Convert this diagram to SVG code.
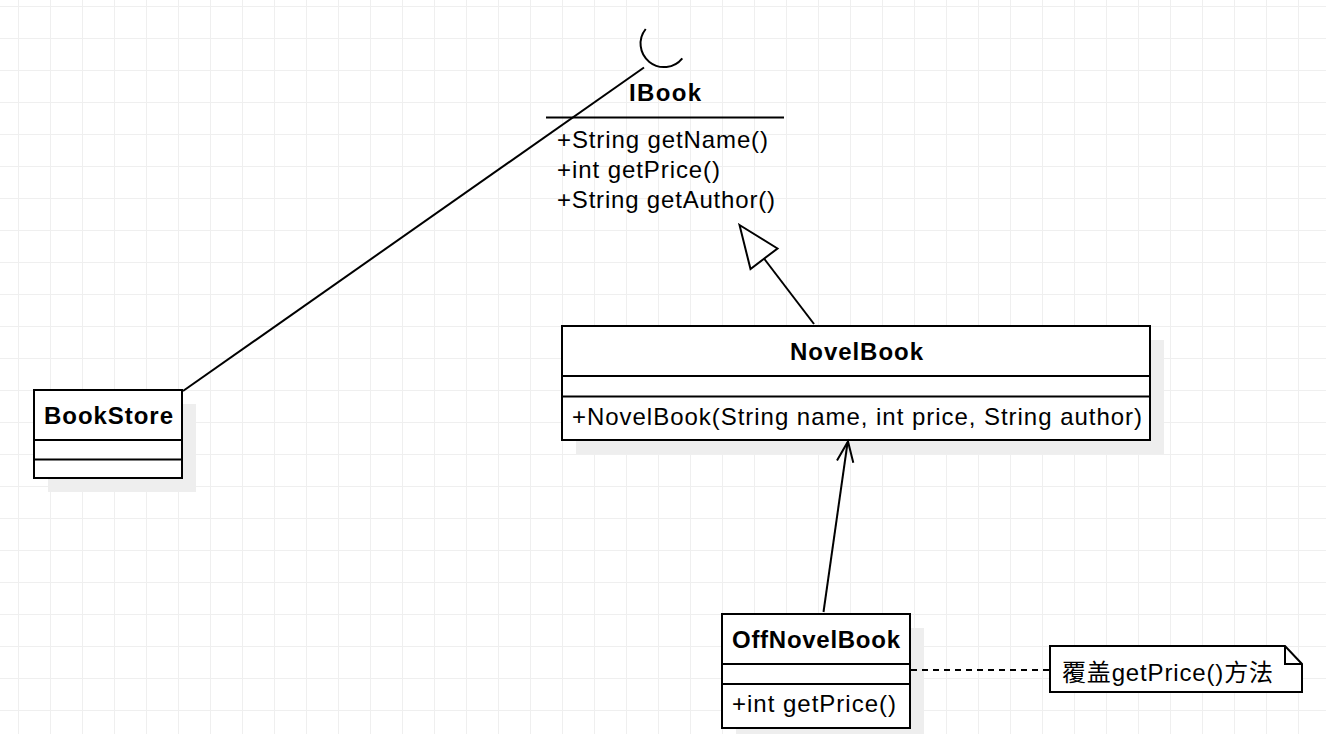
<svg xmlns="http://www.w3.org/2000/svg" width="1326" height="734" viewBox="0 0 1326 734">
  <defs>
    <pattern id="grid" x="18" y="6" width="32" height="32" patternUnits="userSpaceOnUse">
      <path d="M0.5 0 V32 M0 0.5 H32" fill="none" stroke="#efefef" stroke-width="1"/>
    </pattern>
    <style>
      .box { fill: #ffffff; stroke: #000000; stroke-width: 2; }
      .shadow { fill: #eeeeee; stroke: none; }
      .sep { stroke: #000000; stroke-width: 2; fill: none; }
      .edge { stroke: #000000; stroke-width: 2; fill: none; }
      .title { font-family: "Liberation Sans", Arial, sans-serif; font-size: 24px; font-weight: bold; fill: #000000; }
      .member { font-family: "Liberation Sans", Arial, sans-serif; font-size: 24px; fill: #000000; }
      .note { font-family: "Liberation Sans", "Noto Sans CJK SC", sans-serif; font-size: 24px; fill: #000000; }
    </style>
  </defs>

  <rect x="0" y="0" width="1326" height="734" fill="#ffffff"/>
  <rect x="0" y="0" width="1326" height="734" fill="url(#grid)"/>

  <g id="IBook">
    <path class="edge" d="M645.7 29 A23 23 0 1 0 682.3 58.3"/>
    <text class="title" x="629" y="101" textLength="72" lengthAdjust="spacing">IBook</text>
    <line class="sep" x1="546" y1="117.5" x2="784" y2="117.5"/>
    <text class="member" x="557" y="148" textLength="211" lengthAdjust="spacing">+String getName()</text>
    <text class="member" x="557" y="178" textLength="163" lengthAdjust="spacing">+int getPrice()</text>
    <text class="member" x="557" y="208" textLength="218" lengthAdjust="spacing">+String getAuthor()</text>
  </g>

  <g id="BookStore">
    <rect class="shadow" x="48" y="404" width="148" height="88"/>
    <rect class="box" x="34" y="390" width="148" height="88"/>
    <line class="sep" x1="34" y1="440" x2="182" y2="440"/>
    <line class="sep" x1="34" y1="459.5" x2="182" y2="459.5"/>
    <text class="title" x="44" y="424" textLength="129" lengthAdjust="spacing">BookStore</text>
  </g>

  <g id="NovelBook">
    <rect class="shadow" x="576" y="340" width="588" height="114"/>
    <rect class="box" x="562" y="326" width="588" height="114"/>
    <line class="sep" x1="562" y1="376" x2="1150" y2="376"/>
    <line class="sep" x1="562" y1="396.5" x2="1150" y2="396.5"/>
    <text class="title" x="790" y="360" textLength="133" lengthAdjust="spacing">NovelBook</text>
    <text class="member" x="572" y="425" textLength="570" lengthAdjust="spacing">+NovelBook(String name, int price, String author)</text>
  </g>

  <g id="OffNovelBook">
    <rect class="shadow" x="736" y="628" width="188" height="114"/>
    <rect class="box" x="722" y="614" width="188" height="114"/>
    <line class="sep" x1="722" y1="664" x2="910" y2="664"/>
    <line class="sep" x1="722" y1="684" x2="910" y2="684"/>
    <text class="title" x="732" y="648" textLength="168" lengthAdjust="spacing">OffNovelBook</text>
    <text class="member" x="732" y="712" textLength="164" lengthAdjust="spacing">+int getPrice()</text>
  </g>

  <g id="note">
    <path class="box" d="M1050 646 H1285 L1302 664 V692 H1050 Z"/>
    <path class="sep" d="M1285 646 V664 H1302"/>
    <text class="note" x="1062" y="681" textLength="211" lengthAdjust="spacing">覆盖getPrice()方法</text>
  </g>

  <g id="connectors">
    <line class="edge" x1="183" y1="391" x2="644" y2="67.5"/>
    <line class="edge" x1="814" y1="324" x2="764" y2="258.5"/>
    <polygon class="edge" fill="#ffffff" points="739.5,225 777.5,248.5 750.5,269"/>
    <line class="edge" x1="823.5" y1="612" x2="847.5" y2="443"/>
    <polyline class="edge" points="837,460.5 848,441.5 853.3,462.7"/>
    <line class="edge" x1="911" y1="670" x2="1049" y2="670" stroke-dasharray="6 5"/>
  </g>
</svg>
